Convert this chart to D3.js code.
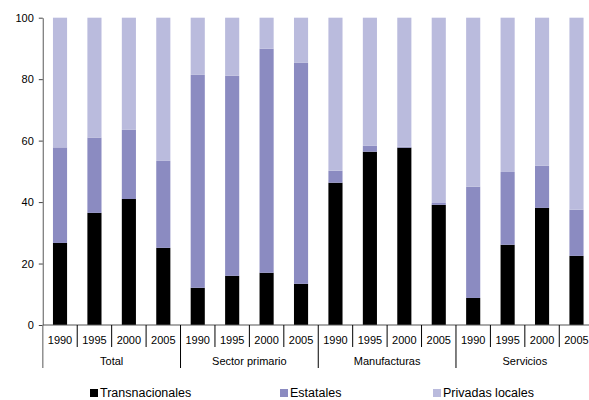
<!DOCTYPE html>
<html><head><meta charset="utf-8">
<script src="https://cdn.jsdelivr.net/npm/d3@7"></script>
<style>
body{margin:0;background:#fff;}
svg{display:block;font-family:"Liberation Sans",Arial,Helvetica,sans-serif;}
</style></head>
<body><svg id="c" width="589" height="400"></svg>
<script>
const groups = ["Total","Sector primario","Manufacturas","Servicios"];
const years = ["1990","1995","2000","2005"];
const seriesNames = ["Transnacionales","Estatales","Privadas locales"];
const transnacionales = [26.7,36.5,41.0,25.1, 12.1,16.0,17.0,13.4, 46.3,56.4,57.7,39.1, 8.8,26.1,38.1,22.5];
const estatales = [31.1,24.5,22.5,28.3, 69.3,65.1,72.9,71.9, 3.9,1.9,0.3,0.6, 36.2,23.7,13.7,15.0];
const privadas = [42.2,39.0,36.5,46.6, 18.6,18.9,10.1,14.7, 49.8,41.7,42.0,60.3, 55.0,50.2,48.2,62.5];
const yTicks = [0,20,40,60,80,100];
const colors = ["#000000","#8b8bc1","#babbdd"];

const svg = d3.select("#c");
const rows = [];
groups.forEach((g,gi)=>years.forEach((y,yi)=>{
  const i = gi*years.length+yi;
  rows.push({key:i, group:g, year:y, Transnacionales:transnacionales[i], Estatales:estatales[i], "Privadas locales":privadas[i]});
}));

const x0 = 42.8, x1 = 593.7, yTop = 17.7, yBot = 325;
const x = d3.scaleBand().domain(rows.map(d=>d.key)).range([x0,x1]).paddingInner(0.59).paddingOuter(0.295);
const y = d3.scaleLinear().domain([0,100]).range([yBot,yTop]);

const stack = d3.stack().keys(seriesNames)(rows);
svg.append("g").selectAll("g").data(stack).join("g")
  .attr("fill",(d,i)=>colors[i])
  .selectAll("rect").data(d=>d).join("rect")
  .attr("x",d=>x(d.data.key))
  .attr("width",x.bandwidth())
  .attr("y",d=>y(d[1]))
  .attr("height",d=>y(d[0])-y(d[1]));

// y axis
const ya = svg.append("g").attr("transform",`translate(${x0},0)`)
  .call(d3.axisLeft(y).tickValues(yTicks).tickSize(4).tickSizeOuter(0).tickPadding(5));
ya.select(".domain").attr("stroke","#7f7f7f").attr("stroke-width",1.3);
ya.selectAll(".tick line").attr("stroke","#444");
ya.selectAll("text").attr("font-size",11).attr("fill","#000").attr("font-family","Liberation Sans, Arial, sans-serif");

// x axis
const step = x.step();
const g = svg.append("g");
g.append("line").attr("x1",x0).attr("x2",x1).attr("y1",yBot).attr("y2",yBot).attr("stroke","#555").attr("stroke-width",1.2);
g.append("line").attr("x1",x0).attr("x2",x0).attr("y1",yBot).attr("y2",368).attr("stroke","#7f7f7f").attr("stroke-width",1.3);
for(let i=1;i<=rows.length;i++){
  const xp = x0 + i*step;
  const isGroup = i % years.length === 0;
  g.append("line").attr("x1",xp).attr("x2",xp).attr("y1",yBot).attr("y2",isGroup?368:347)
   .attr("stroke","#000").attr("stroke-width",1);
}
g.selectAll("text.yr").data(rows).join("text").attr("class","yr")
  .attr("x",d=>x(d.key)+x.bandwidth()/2).attr("y",344)
  .attr("text-anchor","middle").attr("font-size",11).text(d=>d.year);
g.selectAll("text.gr").data(groups).join("text").attr("class","gr")
  .attr("x",(d,i)=>x0 + (i*years.length + years.length/2)*step).attr("y",365)
  .attr("text-anchor","middle").attr("font-size",11).text(d=>d);

// legend
const legX = [90,280,433];
const lg = svg.append("g");
seriesNames.forEach((s,i)=>{
  lg.append("rect").attr("x",legX[i]).attr("y",389).attr("width",8).attr("height",8).attr("fill",colors[i]);
  lg.append("text").attr("x",legX[i]+10).attr("y",396.5).attr("font-size",12.5).text(s);
});
</script></body></html>
